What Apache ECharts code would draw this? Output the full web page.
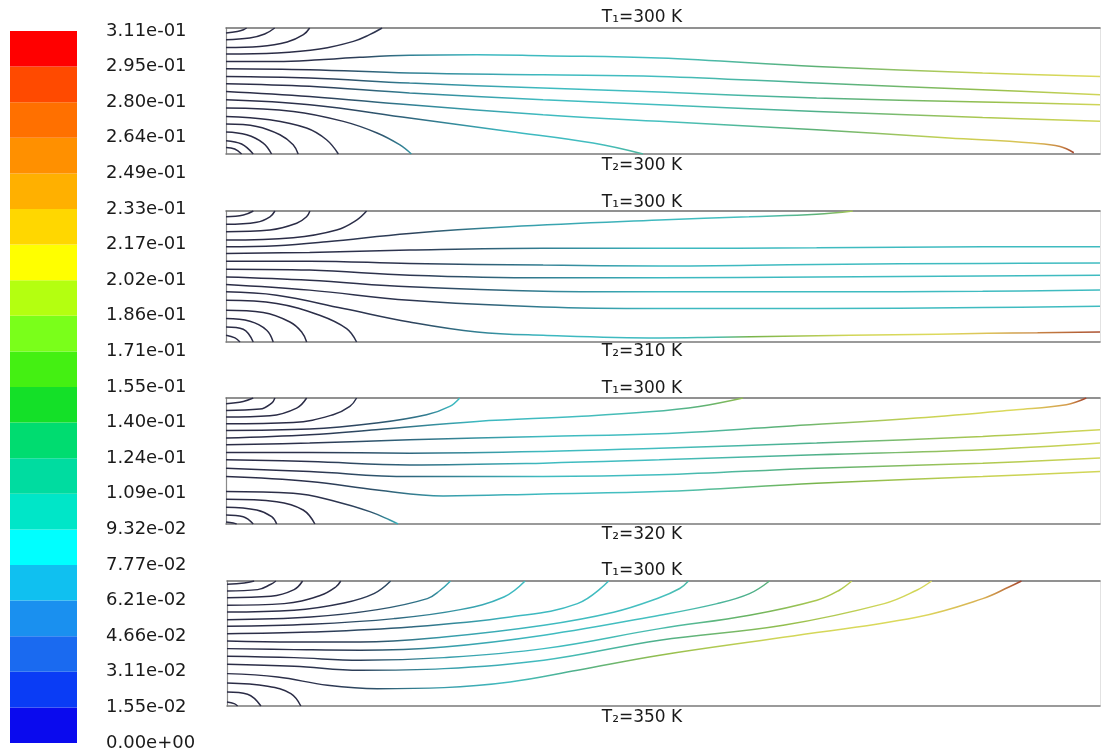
<!DOCTYPE html>
<html><head><meta charset="utf-8">
<script src="https://cdn.jsdelivr.net/npm/echarts@6/dist/echarts.min.js"></script>
<style>html,body{margin:0;padding:0;background:#fff}#c{width:1104px;height:755px}</style>
</head><body><div id="c"></div>
<script>
// ---- colour bar: tick labels (bottom -> top) and band colours (bottom -> top)
const tickLabels = ['0.00e+00','1.55e-02','3.11e-02','4.66e-02','6.21e-02','7.77e-02','9.32e-02','1.09e-01','1.24e-01','1.40e-01','1.55e-01','1.71e-01','1.86e-01','2.02e-01','2.17e-01','2.33e-01','2.49e-01','2.64e-01','2.80e-01','2.95e-01','3.11e-01'];
const bandColors = ['#0a0aee','#0a3cf5','#1a6af0','#1a90ef','#10c0f0','#00ffff','#00e6c8','#00dca0','#00dc70','#14e028','#44f012','#7aff1a','#b4ff10','#ffff00','#ffd700','#ffb000','#ff9000','#ff7000','#ff4a00','#ff0000'];

// ---- panel boundary labels
const topLabels = ['T\u2081=300 K','T\u2081=300 K','T\u2081=300 K','T\u2081=300 K'];
const bottomLabels = ['T\u2082=300 K','T\u2082=310 K','T\u2082=320 K','T\u2082=350 K'];

// ---- path lines: each point [x (0..70), y (0..10), value on colour scale]
const p1Lines = [
 [[0,9.6,0],[0.9,9.72,0],[1.4,9.86,0],[1.65,10,0]],
 [[0,9.07,0],[1.9,9.2,0],[3.1,9.52,0],[3.9,10,0]],
 [[0,8.46,0],[2.7,8.54,0],[4.9,8.89,0],[6.2,9.47,0],[6.7,10,0.01]],
 [[0,7.94,0],[4.1,8.02,0],[7.5,8.33,0.01],[10.2,8.94,0.02],[11.5,9.47,0.03],[12.5,10,0.03]],
 [[0,7.35,0],[4.1,7.35,0.01],[7.5,7.48,0.02],[10.7,7.67,0.04],[14.7,7.83,0.07],[20.1,7.88,0.09],[25.4,7.8,0.1],[34.7,7.62,0.11],[47.3,6.95,0.16],[60.6,6.43,0.21],[70,6.16,0.23]],
 [[0,6.77,0],[6.7,6.69,0.02],[14.7,6.43,0.07],[25.4,6.29,0.1],[34.7,6.16,0.11],[47.3,5.63,0.15],[60.6,5.1,0.19],[70,4.71,0.22]],
 [[0,6.16,0],[6.7,6.03,0.02],[14.7,5.63,0.07],[25.4,5.24,0.1],[34.7,4.92,0.11],[47.3,4.44,0.15],[60.6,4.13,0.19],[70,3.91,0.22]],
 [[0,5.58,0],[6.7,5.37,0.02],[14.7,4.84,0.07],[25.4,4.31,0.1],[34.7,3.91,0.11],[47.3,3.38,0.15],[60.6,2.9,0.2],[70,2.59,0.22]],
 [[0,4.97,0],[6.7,4.57,0.02],[14.7,3.91,0.07],[25.4,3.12,0.1],[34.7,2.59,0.12],[47.3,1.93,0.16],[57.9,1.27,0.21],[64.6,0.87,0.25],[66.8,0.6,0.28],[67.9,0.1,0.31]],
 [[0,4.31,0],[6.7,3.91,0.02],[14.7,2.86,0.06],[22.7,1.79,0.09],[29.4,0.87,0.11],[33.4,0,0.14]],
 [[0,3.65,0],[5.4,3.38,0.01],[9.4,2.59,0.03],[12.1,1.67,0.05],[13.9,0.74,0.07],[14.85,0,0.08]],
 [[0,2.98,0],[3.5,2.72,0],[6.45,2.06,0.01],[8.05,1.13,0.02],[9,0,0.02]],
 [[0,2.38,0],[2.46,2.19,0],[4.32,1.53,0],[5.38,0.74,0],[5.78,0,0]],
 [[0,1.75,0],[1.65,1.53,0],[2.98,0.87,0],[3.65,0,0]],
 [[0,1.06,0],[1.25,0.79,0],[2.18,0,0]],
 [[0,0.52,0],[0.7,0.4,0],[1.25,0,0]]
];
const p2Lines = [
 [[0,9.56,0],[1.39,9.69,0],[2.19,10,0]],
 [[0,8.98,0],[2.46,9.14,0],[3.52,9.56,0],[3.92,10,0]],
 [[0,8.42,0],[3.52,8.55,0],[5.66,9.06,0],[6.45,9.56,0],[6.72,10,0]],
 [[0,7.78,0],[5.38,7.96,0],[8.86,8.55,0.01],[10.46,9.31,0.01],[11.26,10,0.02]],
 [[0,7.27,0],[4.06,7.35,0.01],[8.06,7.65,0.02],[14.7,8.29,0.04],[22.7,8.8,0.08],[34.7,9.31,0.1],[41.9,9.56,0.12],[47.3,9.75,0.16],[50.2,10,0.2]],
 [[0,6.76,0],[6.7,6.84,0.01],[14.7,7.02,0.03],[25.4,7.15,0.07],[34.7,7.15,0.09],[47.3,7.19,0.1],[60.6,7.27,0.1],[70,7.27,0.1]],
 [[0,6.17,0],[6.7,6.17,0.01],[14.7,6.0,0.03],[25.4,5.87,0.07],[34.7,5.81,0.09],[47.3,5.92,0.1],[60.6,6.0,0.1],[70,6.04,0.1]],
 [[0,5.56,0],[6.7,5.49,0.01],[14.7,5.1,0.03],[25.4,4.9,0.07],[34.7,4.9,0.09],[47.3,4.97,0.1],[60.6,5.03,0.1],[70,5.1,0.1]],
 [[0,4.97,0],[6.7,4.72,0.01],[14.7,4.21,0.03],[25.4,3.88,0.07],[34.7,3.83,0.09],[47.3,3.83,0.1],[60.6,3.88,0.1],[70,3.96,0.1]],
 [[0,4.39,0],[6.7,3.96,0.01],[14.7,3.19,0.03],[25.4,2.68,0.07],[34.7,2.56,0.09],[47.3,2.56,0.1],[60.6,2.63,0.1],[70,2.73,0.1]],
 [[0,3.83,0],[4.06,3.57,0.01],[9.4,2.56,0.02],[14.7,1.53,0.04],[20.1,0.77,0.07],[25.4,0.51,0.09],[34.7,0.31,0.1],[39.3,0.36,0.13],[42,0.4,0.18],[50,0.51,0.22],[57,0.6,0.23],[61,0.66,0.25],[65,0.7,0.28],[70,0.77,0.3]],
 [[0,3.19,0],[4.06,2.94,0],[7.5,2.04,0.01],[9.66,1.02,0.02],[10.46,0,0.02]],
 [[0,2.43,0],[2.98,2.25,0],[5.12,1.53,0],[6.06,0.77,0],[6.46,0,0]],
 [[0,1.79,0],[1.92,1.58,0],[3.26,0.9,0],[3.78,0,0]],
 [[0,1.15,0],[1.38,0.97,0],[2.18,0,0]],
 [[0,0.51,0],[0.72,0.31,0],[1.12,0,0]]
];
const p3Lines = [
 [[0,9.55,0],[1.38,9.73,0],[2.18,10,0]],
 [[0,9.01,0],[2.72,9.12,0],[3.66,9.6,0],[3.92,10,0]],
 [[0,8.49,0],[3.52,8.59,0],[5.66,9.2,0],[6.46,10,0]],
 [[0,7.96,0],[5.38,8.06,0],[8.58,8.67,0.01],[9.92,9.33,0.02],[10.46,10,0.02]],
 [[0,7.42,0],[6.7,7.53,0.02],[12.06,8.01,0.05],[16.06,8.67,0.07],[17.92,9.33,0.09],[18.72,10,0.1]],
 [[0,6.82,0],[6.7,7.08,0.02],[12.0,7.48,0.05],[20.1,8.14,0.09],[28.1,8.53,0.11],[33.9,8.9,0.13],[37.9,9.33,0.16],[41.4,10,0.19]],
 [[0,6.28,0],[6.7,6.42,0.02],[14.7,6.68,0.06],[25.4,6.95,0.1],[34.7,7.16,0.11],[44.6,7.74,0.16],[55.3,8.41,0.21],[63.3,9.07,0.23],[67.3,9.47,0.27],[68.9,10,0.31]],
 [[0,5.67,0],[6.7,5.67,0.02],[14.7,5.62,0.06],[25.4,5.75,0.1],[34.7,6.02,0.11],[47.3,6.42,0.15],[60.6,6.95,0.2],[70,7.48,0.22]],
 [[0,5.09,0],[6.7,4.96,0.02],[14.7,4.69,0.06],[25.4,4.83,0.1],[34.7,5.09,0.11],[47.3,5.49,0.15],[60.6,5.89,0.2],[70,6.42,0.22]],
 [[0,4.43,0],[6.7,4.16,0.02],[14.7,3.76,0.06],[25.4,3.76,0.1],[34.7,3.9,0.11],[47.3,4.43,0.16],[60.6,4.83,0.2],[70,5.23,0.22]],
 [[0,3.76,0],[6.7,3.37,0.02],[12.1,2.7,0.05],[17.4,2.23,0.08],[25.4,2.39,0.1],[34.7,2.57,0.12],[47.3,3.24,0.18],[60.6,3.76,0.21],[70,4.16,0.22]],
 [[0,2.57,0],[5.38,2.44,0.01],[8.86,1.77,0.03],[11.52,0.98,0.05],[13.12,0.32,0.08],[13.78,0,0.09]],
 [[0,1.96,0],[4.06,1.77,0],[6.18,1.11,0],[7.12,0,0.01]],
 [[0,1.33,0],[2.46,1.11,0],[3.66,0.58,0],[4.06,0,0]],
 [[0,0.72,0],[1.38,0.58,0],[2.18,0,0]],
 [[0,0.16,0],[0.58,0.08,0],[0.85,0,0]]
];
const p4Lines = [
 [[0,9.74,0],[1.38,9.84,0],[2.18,10,0]],
 [[0,9.2,0],[2.46,9.31,0],[3.52,9.74,0],[3.92,10,0]],
 [[0,8.67,0],[3.52,8.78,0],[5.38,9.31,0],[6.06,10,0]],
 [[0,8.06,0],[4.58,8.19,0],[7.52,8.86,0],[8.72,9.52,0.01],[9.12,10,0.01]],
 [[0,7.52,0],[5.38,7.66,0.01],[9.38,8.24,0.02],[11.78,8.99,0.04],[13.12,10,0.05]],
 [[0,6.91,0],[6.7,7.12,0.02],[12.06,7.71,0.05],[16.06,8.59,0.07],[17.1,9.26,0.08],[17.92,10,0.09]],
 [[0,6.38,0],[6.7,6.54,0.02],[13.4,6.99,0.06],[18.7,7.71,0.08],[22.2,8.72,0.09],[23.9,10,0.1]],
 [[0,5.79,0],[6.7,5.92,0.02],[14.7,6.32,0.06],[22.7,7.12,0.09],[28.1,8.19,0.1],[30.6,10,0.11]],
 [[0,5.2,0],[5.38,5.12,0.01],[10.7,5.12,0.04],[17.4,5.52,0.08],[25.4,6.46,0.1],[31,7.5,0.11],[34.5,8.6,0.12],[36.3,9.4,0.13],[37,10,0.14]],
 [[0,4.59,0],[5.38,4.51,0.01],[10.7,4.46,0.04],[17.4,4.72,0.08],[25.4,5.66,0.1],[34.7,7.26,0.12],[39.3,8.19,0.14],[41.9,8.99,0.15],[43.5,10,0.16]],
 [[0,3.98,0],[5.38,3.87,0.01],[10.7,3.66,0.04],[17.4,3.87,0.08],[25.4,4.59,0.1],[34.7,6.19,0.13],[41.9,7.26,0.17],[47.3,8.46,0.2],[49.1,9.26,0.2],[50.1,10,0.21]],
 [[0,3.34,0],[5.38,3.18,0.01],[10.7,2.86,0.04],[17.4,2.99,0.08],[25.4,3.66,0.11],[34.7,5.26,0.15],[44.6,6.46,0.19],[52.7,8.19,0.22],[55.3,9.26,0.22],[56.5,10,0.23]],
 [[0,2.59,0],[4.06,2.32,0.01],[8.06,1.66,0.03],[12.06,1.39,0.05],[17.4,1.47,0.08],[22.7,1.92,0.11],[28.1,2.86,0.15],[34.7,4.06,0.19],[44.6,5.5,0.22],[55.3,7.1,0.23],[60.6,8.59,0.26],[62.7,9.52,0.29],[63.7,10,0.31]],
 [[0,1.84,0],[3.26,1.58,0],[5.12,0.99,0],[5.92,0,0]],
 [[0,1.12,0],[1.65,0.94,0],[2.72,0,0]],
 [[0,0.32,0],[0.58,0.19,0],[0.85,0,0]]
];

// ---- styles
const lineColorStops = [[0,'#2b2c46'],[0.035,'#2d3550'],[0.065,'#2f6f86'],[0.09,'#3cb8c0'],[0.12,'#46c0c0'],[0.15,'#4fb08a'],[0.18,'#78b44a'],[0.21,'#c8d252'],[0.235,'#e2dc60'],[0.27,'#d49a4c'],[0.311,'#9a3226']];
const panelBoxes = [
  {left:226, top:28, width:874, height:126, ty:18, by:166},
  {left:226, top:211, width:874, height:131, ty:203, by:352},
  {left:226, top:398, width:874, height:126, ty:389, by:535},
  {left:227, top:581, width:873, height:125, ty:571, by:718}
];
const FONT = '"DejaVu Sans", "Liberation Sans", Arial, sans-serif';

function hexRgb(h){ return [parseInt(h.slice(1,3),16),parseInt(h.slice(3,5),16),parseInt(h.slice(5,7),16)]; }
function colorFor(v){
  const s = lineColorStops;
  if (v <= s[0][0]) return s[0][1];
  for (let i=1;i<s.length;i++){
    if (v <= s[i][0]){
      const t = (v - s[i-1][0])/(s[i][0]-s[i-1][0]);
      const a = hexRgb(s[i-1][1]), b = hexRgb(s[i][1]);
      const c = a.map((x,k)=>Math.round(x+(b[k]-x)*t));
      return 'rgb('+c.join(',')+')';
    }
  }
  return s[s.length-1][1];
}

const chart = echarts.init(document.getElementById('c'), null, {renderer:'canvas'});
const grids = [{left:10, top:31, width:67, height:712, containLabel:false, outerBoundsMode:'none'}];
const xAxes = [{type:'category', gridIndex:0, data:['scale'], show:false}];
const yAxes = [{type:'value', gridIndex:0, min:0, max:20, interval:1, position:'right',
  axisLine:{show:false}, axisTick:{show:false}, splitLine:{show:false},
  axisLabel:{margin:29, fontSize:18, fontFamily:FONT, color:'#1a1a1a', formatter:(v)=>tickLabels[v] || ''}}];
const series = [];
bandColors.forEach((c,i)=>{
  series.push({type:'bar', xAxisIndex:0, yAxisIndex:0, stack:'cb', data:[1], barWidth:'100%', silent:true,
    itemStyle:{color:c}});
});
const graphics = [];
const allPanels = [p1Lines, p2Lines, p3Lines, p4Lines];
const noLab = {show:false}, noTick = {show:false}, noSplit = {show:false};
panelBoxes.forEach((b,pi)=>{
  const gi = pi+1;
  grids.push({left:b.left, top:b.top, width:b.width, height:b.height, containLabel:false, outerBoundsMode:'none'});
  const xi = xAxes.length, yi = yAxes.length;
  xAxes.push({type:'value', gridIndex:gi, min:0, max:70, position:'bottom', axisLabel:noLab, axisTick:noTick, splitLine:noSplit,
    axisLine:{show:true, onZero:false, lineStyle:{color:'#7a7a7a', width:1.5}}});
  xAxes.push({type:'value', gridIndex:gi, min:0, max:70, position:'top', axisLabel:noLab, axisTick:noTick, splitLine:noSplit,
    axisLine:{show:true, onZero:false, lineStyle:{color:'#6e6e6e', width:1.5}}});
  yAxes.push({type:'value', gridIndex:gi, min:0, max:10, position:'left', axisLabel:noLab, axisTick:noTick, splitLine:noSplit,
    axisLine:{show:true, onZero:false, lineStyle:{color:'#8a8a8a', width:1.2}}});
  yAxes.push({type:'value', gridIndex:gi, min:0, max:10, position:'right', axisLabel:noLab, axisTick:noTick, splitLine:noSplit,
    axisLine:{show:true, onZero:false, lineStyle:{color:'#e2e2e2', width:1}}});
  allPanels[pi].forEach(pts=>{
    const x0 = pts[0][0], x1 = pts[pts.length-1][0];
    const stops = pts.map(p=>({offset: Math.min(1, Math.max(0, (p[0]-x0)/(x1-x0))), color: colorFor(p[2])}));
    series.push({type:'line', xAxisIndex:xi, yAxisIndex:yi, data:pts.map(p=>[p[0],p[1]]),
      showSymbol:false, symbol:'none', smooth:0.4, silent:true,
      lineStyle:{width:1.5, color:{type:'linear', x:0, y:0, x2:1, y2:0, colorStops:stops, global:false}}});
  });
  const cx = 642;
  graphics.push({type:'text', x:cx, y:b.ty, silent:true, style:{text:topLabels[pi], font:'17px '+FONT, fill:'#1a1a1a', align:'center', verticalAlign:'middle'}});
  graphics.push({type:'text', x:cx, y:b.by, silent:true, style:{text:bottomLabels[pi], font:'17px '+FONT, fill:'#1a1a1a', align:'center', verticalAlign:'middle'}});
});

chart.setOption({
  backgroundColor:'#ffffff',
  animation:false,
  grid:grids, xAxis:xAxes, yAxis:yAxes, series:series, graphic:graphics
});
</script>
</body></html>
